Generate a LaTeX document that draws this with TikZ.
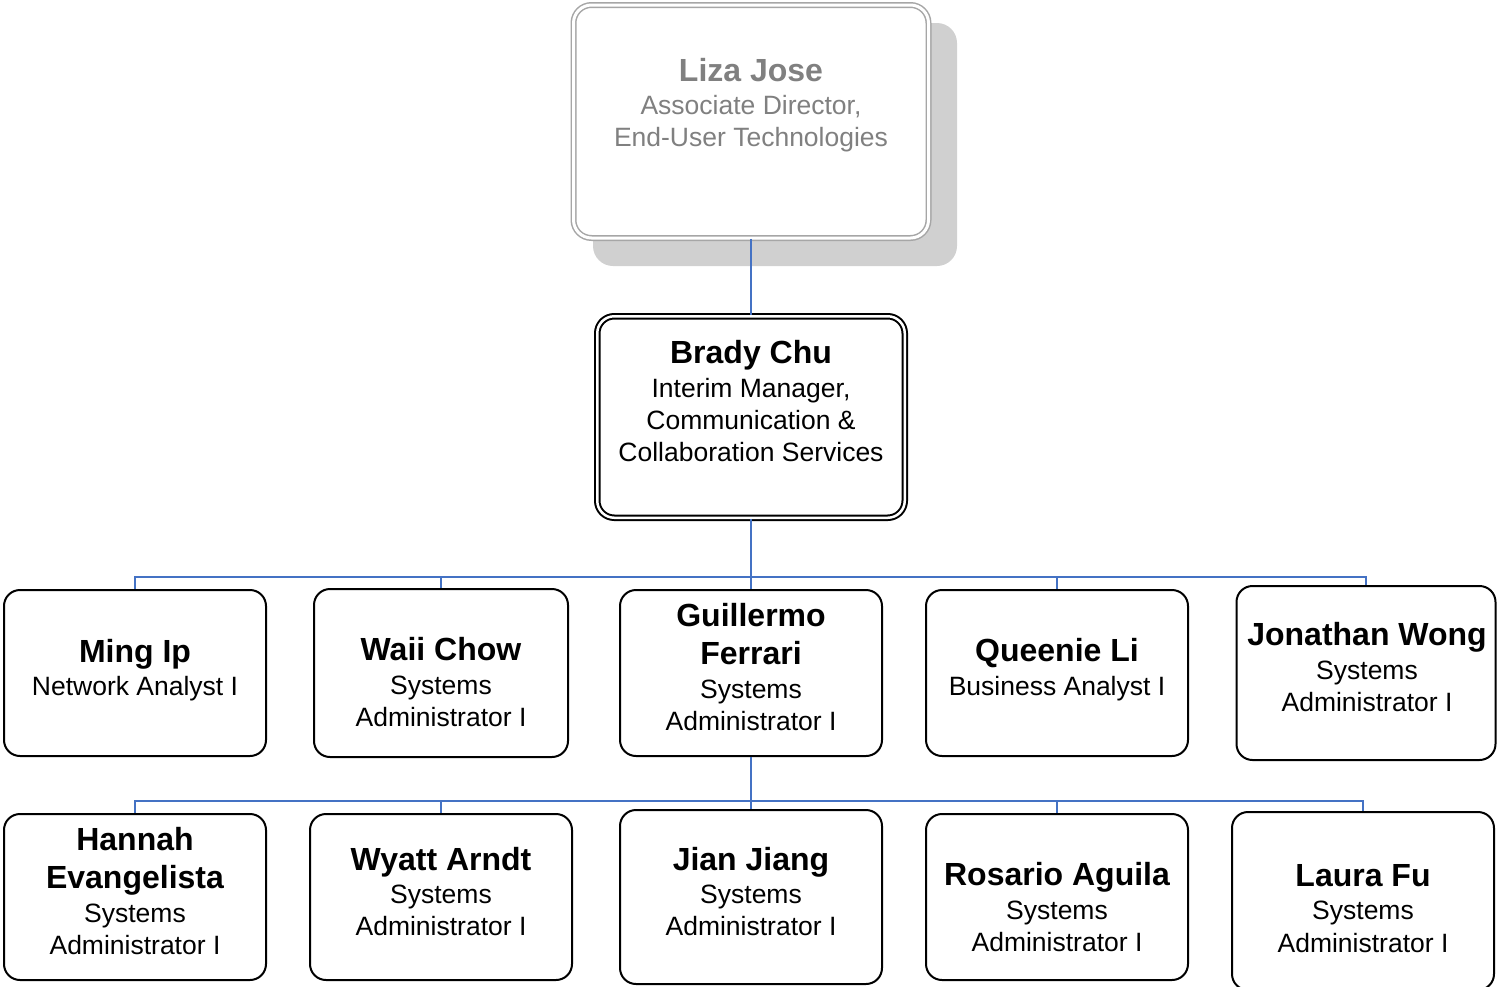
\documentclass[tikz,border=0pt]{standalone}
\usepackage{fontspec}
\setmainfont{Liberation Sans}
\definecolor{connblue}{HTML}{4472C4}
\definecolor{shadowgray}{HTML}{D0D0D0}
\definecolor{lizaborder}{HTML}{A6A6A6}
\definecolor{lizatext}{HTML}{808080}
\tikzset{
  box/.style={draw=black, line width=2pt, rounded corners=16pt, fill=white, inner sep=0pt},
  nm/.style={anchor=base, inner sep=0pt, font=\fontsize{32}{38}\selectfont\bfseries},
  tt/.style={anchor=base, inner sep=0pt, font=\fontsize{26.5}{32}\selectfont},
  conn/.style={draw=connblue, line width=2pt},
}
\begin{document}
\begin{tikzpicture}[x=1pt, y=-1pt]
\useasboundingbox (0,0) rectangle (1497,986);
% shadow of top box
\fill[shadowgray, rounded corners=20pt] (593,23) rectangle (957,266);
% top box
\node[box, draw=lizaborder, line width=1.5pt, double, double distance=3pt, rounded corners=18pt,
      minimum width=355pt, minimum height=233pt] (liza) at (751,121.5) {};
\node[box, double, double distance=2.5pt, rounded corners=17pt,
      minimum width=307.5pt, minimum height=201.5pt] (brady) at (751,417) {};
% row 1
\node[box, minimum width=262pt, minimum height=166pt] (ming) at (135,673) {};
\node[box, minimum width=254pt, minimum height=168pt] (waii) at (441,673) {};
\node[box, minimum width=262pt, minimum height=166pt] (guillermo) at (751,673) {};
\node[box, minimum width=262pt, minimum height=166pt] (queenie) at (1057,673) {};
\node[box, minimum width=259pt, minimum height=174pt] (jonathan) at (1366,673) {};
% row 2
\node[box, minimum width=262pt, minimum height=166pt] (hannah) at (135,897) {};
\node[box, minimum width=262pt, minimum height=166pt] (wyatt) at (441,897) {};
\node[box, minimum width=262pt, minimum height=174pt] (jian) at (751,897) {};
\node[box, minimum width=262pt, minimum height=166pt] (rosario) at (1057,897) {};
\node[box, minimum width=262pt, minimum height=178pt] (laura) at (1363,901) {};
% connectors
\coordinate (bus1) at (751,577);
\coordinate (bus2) at (751,801);
\draw[conn] (liza.south) -- (brady.north);
\draw[conn] (brady.south) -- (guillermo.north);
\draw[conn] (bus1) -| (ming.north);
\draw[conn] (bus1) -| (waii.north);
\draw[conn] (bus1) -| (queenie.north);
\draw[conn] (bus1) -| (jonathan.north);
\draw[conn] (guillermo.south) -- (jian.north);
\draw[conn] (bus2) -| (hannah.north);
\draw[conn] (bus2) -| (wyatt.north);
\draw[conn] (bus2) -| (rosario.north);
\draw[conn] (bus2) -| (laura.north);
% texts
\node[nm, text=lizatext] (liza-n) at (751,81) {Liza Jose};
\node[tt, text=lizatext] (liza-t1) at (751,114) {Associate Director,};
\node[tt, text=lizatext] (liza-t2) at (751,146) {End-User Technologies};
\node[nm] (brady-n) at (751,363) {Brady Chu};
\node[tt] (brady-t1) at (751,397) {Interim Manager,};
\node[tt] (brady-t2) at (751,429) {Communication \&};
\node[tt] (brady-t3) at (751,461) {Collaboration Services};
\node[nm] (ming-n) at (135,662) {Ming Ip};
\node[tt] (ming-t1) at (135,695) {Network Analyst I};
\node[nm] (waii-n) at (441,660) {Waii Chow};
\node[tt] (waii-t1) at (441,694) {Systems};
\node[tt] (waii-t2) at (441,726) {Administrator I};
\node[nm] (guillermo-n1) at (751,626) {Guillermo};
\node[nm] (guillermo-n2) at (751,664) {Ferrari};
\node[tt] (guillermo-t1) at (751,698) {Systems};
\node[tt] (guillermo-t2) at (751,730) {Administrator I};
\node[nm] (queenie-n) at (1057,661) {Queenie Li};
\node[tt] (queenie-t1) at (1057,695) {Business Analyst I};
\node[nm] (jonathan-n) at (1367,645) {Jonathan Wong};
\node[tt] (jonathan-t1) at (1367,679) {Systems};
\node[tt] (jonathan-t2) at (1367,711) {Administrator I};
\node[nm] (hannah-n1) at (135,850) {Hannah};
\node[nm] (hannah-n2) at (135,888) {Evangelista};
\node[tt] (hannah-t1) at (135,922) {Systems};
\node[tt] (hannah-t2) at (135,954) {Administrator I};
\node[nm] (wyatt-n) at (441,870) {Wyatt Arndt};
\node[tt] (wyatt-t1) at (441,903) {Systems};
\node[tt] (wyatt-t2) at (441,935) {Administrator I};
\node[nm] (jian-n) at (751,870) {Jian Jiang};
\node[tt] (jian-t1) at (751,903) {Systems};
\node[tt] (jian-t2) at (751,935) {Administrator I};
\node[nm] (rosario-n) at (1057,885) {Rosario Aguila};
\node[tt] (rosario-t1) at (1057,919) {Systems};
\node[tt] (rosario-t2) at (1057,951) {Administrator I};
\node[nm] (laura-n) at (1363,886) {Laura Fu};
\node[tt] (laura-t1) at (1363,919) {Systems};
\node[tt] (laura-t2) at (1363,952) {Administrator I};
\end{tikzpicture}
\end{document}
